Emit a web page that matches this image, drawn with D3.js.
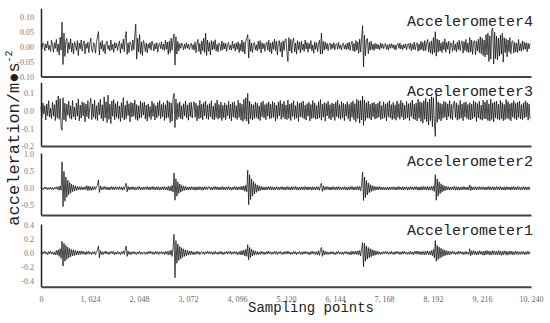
<!DOCTYPE html>
<html>
<head>
<meta charset="utf-8">
<script src="https://cdn.jsdelivr.net/npm/d3@7"></script>
<style>
body { margin: 0; background: #fff; }
svg { display: block; }
</style>
</head>
<body>
<div id="chart"></div>
<script>
// Vibration records of four accelerometers, values in 0.001 m/s^2,
// one value every 20 sampling points
const sampleStep = 20;

const acc4 = [
  3, -8, 12, 6, -14, 9, -5, 18, -11, 4, -16, 21, 7, -19, 13, -6,
  24, -17, 9, -28, 31, -12, 82, -60, 45, -33, 18, 27, -22, 14, -9, 26,
  -18, 11, -25, 16, 5, -13, 20, -30, 12, -7, 22, -15, 8, 19, -24, 10,
  -6, 15, -20, 9, 28, -11, -19, 13, 6, -22, 17, 32, 50, -28, 14, -8,
  20, -16, 7, -24, 12, 18, -9, 4, -15, 22, -11, 8, -19, 14, -5, 11,
  -13, 6, 19, -22, 10, -8, 25, -17, 30, 50, -26, 12, -20, 16, 7, -14,
  22, -10, 36, 75, -42, 28, -18, 40, -24, 15, -30, 20, 8, -16, 12, -21,
  9, -6, 14, -12, 18, 5, -15, 10, -8, 13, -19, 6, 11, -7, 16, -10,
  8, -13, 21, -9, 15, -26, 18, -20, 28, -12, 24, 42, -62, 33, -25, 17,
  -14, 10, -6, 12, 4, -11, 9, -7, 13, -5, 8, -10, 6, 11, -9, 7,
  -12, 16, -21, 9, 24, -17, 11, -26, 19, -14, 28, -20, 45, -30, 22, -16,
  14, -28, 20, -11, 17, -9, 23, -15, 8, -18, 12, 6, -14, 19, -10, 13,
  -8, 11, -16, 7, 14, -10, 5, -12, 18, -6, 9, -15, 12, -9, 16, -20,
  10, -14, 22, -18, 15, -25, 19, 28, 40, -38, 24, -16, 12, -20, 9, 14,
  -11, 6, -15, 18, -9, 20, -22, 13, -7, 10, -16, 8, 15, -12, 21, -18,
  12, -24, 16, -9, 25, -14, 18, -28, 11, 20, -17, 14, -35, 19, -13, 22,
  26, -20, -50, 30, -15, 24, -22, 17, 28, -18, 12, -25, 20, -10, 15, -21,
  18, -12, 9, -16, 22, -8, 14, -19, 11, -7, 20, -14, 6, -22, 16, -9,
  13, -17, 10, 21, -25, 45, -24, 18, -12, 15, -8, 11, -14, 7, 12, -10,
  9, -6, 13, -11, 7, 10, -9, 14, -7, 5, -12, 9, 11, -8, 6, -10,
  12, -9, 15, -13, 8, 18, -14, 11, -17, 20, -12, 16, -22, 25, -18, 28,
  70, -68, 38, -30, 22, 27, -24, 15, -12, 18, -10, 8, -13, 11, -7, 9,
  -8, 6, -10, 12, -5, 9, -7, 4, 11, -9, 6, -12, 8, -6, 10, -4,
  7, -9, 5, -11, 8, 10, -6, 12, -8, 5, -10, 7, -5, 9, -11, 6,
  10, -7, 12, -14, 8, -9, 15, -11, 6, 13, -16, 9, -12, 18, -10, 14,
  -15, 20, -13, 11, 24, -18, 15, -22, 19, -26, 30, -20, 50, -32, 25, -18,
  22, -15, 12, -20, 17, -11, 26, -19, 14, -9, 18, -24, 13, 10, -16, 20,
  -12, 8, -18, 15, -10, 21, -14, 11, 19, -22, 16, -13, 24, -17, 12, -20,
  30, -18, 22, -26, 15, 20, -28, 18, -14, 25, -20, 33, -24, 28, -30, 22,
  -35, 40, -28, 45, -50, 36, -42, 55, 62, -58, 48, -40, 35, -45, 28, -32,
  38, -25, 45, -52, 30, -20, 26, -34, 22, -18, 30, -24, 16, 20, -22, 14,
  -18, 12, -20, 24, -14, 10, -16, 19, -11, 15, -9, 13, -17, 11, -8, 10
];

const acc3 = [
  22, -38, 45, -18, 30, -52, 40, -27, 58, -35, 15, -44, 50, -30, 36, -55,
  62, -40, 85, -48, 70, -95, -110, 75, -52, 44, -60, 38, -25, 55, -42, 30,
  -48, 60, -35, 22, -50, 45, -30, 68, -57, 33, -41, 52, -28, 47, -62, 39,
  -33, 58, -45, 26, 72, -50, 40, -36, 61, -47, 30, -55, 48, -22, 66, -44,
  35, -58, 80, -40, 52, -66, 90, -48, 38, -72, 57, -31, 64, -50, 42, -37,
  55, -45, 28, -60, 47, -39, 76, -52, 33, -44, 58, -27, 41, -63, 50, -35,
  44, -30, 62, -48, 36, -55, 29, -42, 57, -38, 46, -24, 51, -47, 33, -58,
  40, -36, 25, -49, 55, -31, 43, -52, 30, -40, 48, -28, 59, -45, 37, -33,
  47, -55, 35, -42, 60, -38, 52, -66, 45, -58, 72, 100, -95, 68, -50, 43,
  -37, 52, -45, 30, -48, 41, -28, 56, -39, 34, -53, 46, -32, 49, -41, 27,
  53, -36, 44, -57, 31, -45, 60, -40, 38, -51, 47, -29, 55, -43, 35, -49,
  42, -33, 58, -46, 27, -52, 44, -38, 62, -47, 36, -41, 50, -55, 32, -39,
  46, -50, 34, -28, 55, -44, 39, -57, 48, -35, 52, -42, 30, -49, 61, -37,
  45, -53, 38, -60, 66, -48, 75, -58, 100, -75, 55, -46, 40, -52, 35, -43,
  51, -38, 44, -47, 29, -55, 48, -33, 57, -40, 36, -50, 43, -31, 52, -45,
  38, -42, 54, -36, 47, -58, 33, -44, 50, -29, 60, -48, 41, -37, 55, -46,
  34, -50, 62, -43, 39, -55, 46, -32, 58, -47, 30, -41, 53, -60, 44, -35,
  49, -38, 56, -45, 33, -52, 42, -30, 50, -57, 37, -44, 59, -39, 45, -48,
  31, -46, 52, -40, 64, -53, 38, -35, 47, -58, 43, -29, 55, -44, 36, -51,
  45, -37, 40, -55, 50, -33, 61, -42, 35, -48, 53, -39, 44, -56, 38, -30,
  52, -45, 37, -59, 48, -36, 57, -50, 42, -62, 66, -44, 58, -70, 60, -52,
  85, -82, 62, -55, 47, -40, 56, -43, 38, -52, 45, -34, 50, -47, 39, -42,
  44, -36, 55, -49, 31, -45, 52, -38, 40, -57, 47, -33, 58, -41, 36, -50,
  49, -44, 35, -53, 57, -37, 42, -48, 60, -35, 46, -52, 33, -45, 54, -39,
  41, -55, 48, -32, 62, -46, 38, -50, 45, -58, 66, -42, 52, -60, 47, -70,
  58, -48, 72, -62, 50, -80, 68, -55, 80, -90, 75, -60, -145, 90, -65, 52,
  -48, 44, -57, 38, -42, 55, -36, 49, -52, 40, -33, 58, -45, 37, -50, 43,
  55, -38, 46, -53, 35, -47, 60, -41, 39, -56, 48, -34, 52, -44, 37, -49,
  47, -52, 38, -45, 58, -36, 50, -60, 42, -39, 55, -48, 33, -53, 61, -44,
  50, -46, 63, -55, 40, -58, 67, -49, 45, -62, 52, -40, 56, -47, 38, -53,
  60, -44, 48, -56, 37, -50, 65, -42, 53, -48, 41, -57, 46, -36, 58, -45,
  43, -52, 49, -38, 55, -46, 36, -50, 44, -41, 57, -35, 48, -53, 40, -45
];

const acc2 = [
  25, -38, 14, -30, 42, -20, 33, -45, 18, -27, 40, -35, 22, -48, 30, -19,
  45, -32, 50, -60, 70, -55, 780, -540, 500, -380, 330, -260, 240, -190, 170, -140,
  120, -100, 90, -80, 70, -60, 55, -50, 48, -40, 52, -45, 38, -42, 50, -36,
  80, -70, 65, -55, 50, -60, 45, -40, 55, -35, 48, 90, 250, -120, 70, -50,
  42, -38, 55, -30, 47, -44, 35, -52, 40, -33, 58, -41, 36, -46, 50, -29,
  38, -45, 52, -34, 41, -56, 44, -37, 70, 150, -100, 60, -48, 35, -42, 50,
  -36, 45, -53, 30, -40, 48, -35, 55, -44, 32, -50, 41, -38, 46, -30, 52,
  -42, 37, -49, 44, -33, 58, -40, 35, -47, 51, -36, 43, -55, 39, -45, 48,
  -38, 50, -44, 36, -52, 60, -70, 55, -80, 90, -110, 450, -350, 280, -230, 190,
  -150, 130, -110, 90, -80, 70, -60, 55, -50, 45, -48, 40, -44, 50, -38, 42,
  -50, 45, -55, 40, -48, 52, -37, 44, -60, 38, -45, 50, -33, 47, -41, 36,
  53, -46, 39, -52, 44, -35, 57, -40, 48, -43, 36, -50, 42, -38, 55, -45,
  37, -49, 46, -33, 51, -42, 40, -56, 35, -44, 58, -39, 47, -52, 41, -36,
  50, -45, 62, -55, 70, -85, 90, -100, 530, -480, 400, -330, 280, -230, 200, -170,
  140, -120, 100, -85, 75, -65, 58, -50, 45, -52, 40, -47, 44, -38, 50, -42,
  55, -48, 44, -52, 38, -45, 50, -40, 36, -47, 42, -35, 53, -44, 39, -50,
  46, -38, 52, -43, 35, -55, 48, -40, 44, -36, 58, -47, 41, -52, 37, -45,
  50, -42, 39, -48, 55, -37, 43, -51, 47, -34, 40, -56, 49, -41, 36, -46,
  53, -40, 45, -60, 80, 150, -90, 70, -55, 48, -42, 50, -37, 44, -49, 38,
  -45, 52, -36, 41, -50, 47, -39, 55, -43, 37, -48, 42, -35, 51, -46, 40,
  -52, 38, -44, 49, -37, 55, -45, 42, -50, 48, -40, 55, -52, 60, -70, 90,
  480, -360, 330, -270, 230, -190, 160, -130, 110, -95, 80, -70, 60, -55, 50, -45,
  48, -40, 52, -44, 38, -47, 41, -50, 36, -45, 44, -50, 38, -45, 41, -36,
  48, -43, 37, -52, 45, -39, 54, -41, 36, -48, 50, -44, 40, -35, 47, -53,
  39, -46, 55, -38, 42, -50, 47, -36, 53, -45, 40, -58, 44, -50, 52, -46,
  55, -42, 48, -52, 60, -50, 45, -55, 62, -58, 70, -90, 400, -350, 280, -230,
  190, -160, 135, -115, 95, -80, 70, -60, 55, -48, 45, -50, 40, -44, 48, -38,
  60, -55, 48, -52, 44, -47, 40, -50, 45, -38, 53, -42, 37, -48, 43, -40,
  100, -70, 55, -48, 42, -37, 50, -44, 38, -46, 52, -40, 45, -35, 48, -42,
  37, -50, 44, -39, 55, -46, 41, -36, 49, -53, 40, -45, 56, -38, 43, -47,
  52, -41, 38, -48, 45, -55, 50, -37, 44, -42, 36, -51, 47, -40, 53, -45,
  40, -46, 55, -38, 42, -49, 37, -44, 51, -36, 45, -50, 39, -43, 48, -40
];

const acc1 = [
  12, -22, 18, -8, 25, -15, 9, -27, 20, -13, 28, -18, 11, -24, 16, -30,
  35, -28, 45, -50, 60, -80, 170, -190, 140, -120, 110, -95, 85, -70, 65, -55,
  50, -42, 45, -38, 35, -30, 32, -26, 28, -22, 30, -18, 25, -20, 15, -28,
  22, -14, 26, -19, 10, -24, 17, -12, 21, -27, 18, 40, 100, -70, 35, -22,
  16, -25, 20, -11, 27, -17, 13, -23, 19, -9, 24, -15, 21, -28, 12, -18,
  23, -16, 10, -26, 18, -12, 28, -20, 45, 100, -50, 30, -22, 15, -25, 19,
  -13, 22, -18, 9, -24, 16, -11, 25, -19, 14, -21, 8, 17, -23, 12, -16,
  20, -14, 26, -10, 18, -22, 13, -17, 24, -12, 19, -25, 15, -9, 21, -18,
  14, -22, 25, -18, 22, -28, 30, -25, 40, -50, 80, 270, -360, 180, -150, 130,
  -110, 95, -85, 75, -65, 58, -50, 45, -40, 36, -32, 28, -25, 30, -22, 18,
  -26, 15, -20, 24, -13, 19, -27, 11, 22, -17, 14, -23, 18, -10, 25, -16,
  21, -12, 17, -24, 13, -19, 26, -14, 10, -22, 18, -15, 23, -20, 12, -25,
  16, -11, 24, -18, 20, -13, 27, -21, 15, -17, 22, -10, 19, -26, 14, -20,
  25, -30, 35, -28, 40, -45, 55, -50, 120, -100, 80, -65, 55, -45, 38, -32,
  28, -24, 20, -26, 15, -21, 23, -14, 18, -25, 12, -19, 22, -16, 26, -11,
  17, -23, 13, -18, 25, -12, 20, -27, 15, -10, 24, -20, 11, -22, 19, -15,
  22, -17, 27, -13, 16, -24, 10, -19, 23, -15, 18, -26, 14, -11, 21, -20,
  13, -25, 19, -16, 24, -12, 17, -21, 11, -27, 22, -14, 26, -18, 15, -23,
  20, -28, 30, -35, 40, 80, -50, 38, -30, 25, -20, 17, -24, 13, -19, 22,
  -15, 18, -22, 12, -26, 20, -13, 24, -17, 10, -21, 16, -25, 19, -11, 23,
  -18, 14, -23, 20, -27, 25, -20, 22, -18, 26, -24, 30, -28, 35, -45, 60,
  150, -200, 140, -120, 100, -90, 80, -70, 62, -55, 48, -42, 38, -34, 30, -26,
  24, -20, 17, -23, 13, -18, 21, -15, 25, -12, 19, -22, 14, -17, 26, -19,
  12, -24, 20, -16, 23, -11, 18, -25, 15, -20, 27, -13, 22, -18, 10, -21,
  16, -22, 25, -19, 13, -26, 21, -14, 28, -20, 25, -18, 22, -26, 20, -24,
  22, -28, 25, -20, 30, -26, 24, -30, 35, -40, 50, -70, 180, -120, 110, -95,
  85, -75, 68, -60, 52, -46, 40, -36, 32, -28, 25, -30, 22, -18, 26, -15,
  20, -24, 14, -19, 27, -16, 22, -12, 18, -25, 13, -21, 24, -17, 11, -23,
  60, -40, 30, -25, 35, -22, 28, -30, 20, -26, 32, -18, 25, -28, 22, -34,
  30, -24, 36, -20, 27, -32, 24, -28, 35, -22, 29, -26, 20, -30, 33, -25,
  28, -35, 22, -27, 31, -20, 26, -33, 19, -24, 30, -21, 25, -29, 18, -23,
  27, -20, 22, -26, 17, -21, 24, -18, 20, -25, 16, -22, 23, -19, 21, -17
];

const xTickValues = [0, 1024, 2048, 3072, 4096, 5120, 6144, 7168, 8192, 9216, 10240];
const acc4Ticks = [-0.10, -0.05, 0, 0.05, 0.10];
const acc3Ticks = [-0.2, -0.1, 0, 0.1];
const acc2Ticks = [-0.5, 0, 0.5, 1.0];
const acc1Ticks = [-0.4, -0.2, 0, 0.2, 0.4];

const width = 550, height = 323;
const left = 41, right = 531;

const svg = d3.select("#chart").append("svg")
    .attr("width", width)
    .attr("height", height);

const x = d3.scaleLinear().domain([0, 10240]).range([left, right]);

// one panel per sensor, top to bottom
const panels = [
    { name: "Accelerometer4", values: acc4, domain: [-0.10, 0.128], top: 8.3, bottom: 76.5, ticks: acc4Ticks, fmt: ".2f", titleY: 26 },
    { name: "Accelerometer3", values: acc3, domain: [-0.2, 0.163], top: 82.3, bottom: 146, ticks: acc3Ticks, fmt: ".1f", titleY: 96 },
    { name: "Accelerometer2", values: acc2, domain: [-0.785, 1.04], top: 153, bottom: 215, ticks: acc2Ticks, fmt: ".1f", titleY: 166 },
    { name: "Accelerometer1", values: acc1, domain: [-0.49, 0.42], top: 224, bottom: 286.7, ticks: acc1Ticks, fmt: ".1f", titleY: 235, last: true }
];

panels.forEach(p => {
    const y = d3.scaleLinear().domain(p.domain).range([p.bottom, p.top]);
    const g = svg.append("g");

    const line = d3.line()
        .x((d, i) => x(i * sampleStep))
        .y(d => y(d / 1000));

    g.append("path")
        .datum(p.values)
        .attr("d", line)
        .attr("fill", "none")
        .attr("stroke", "#000")
        .attr("stroke-width", 0.7);

    // left axis, labels only
    const yAxis = g.append("g")
        .attr("transform", `translate(${left},0)`)
        .call(d3.axisLeft(y)
            .tickValues(p.ticks)
            .tickFormat(d => d3.format(p.fmt)(d).replace("\u2212", "-"))
            .tickSize(0)
            .tickPadding(7));
    yAxis.select(".domain").attr("stroke", "#222").attr("stroke-width", 1.5);
    yAxis.selectAll("text")
        .attr("font-family", "Liberation Serif")
        .attr("font-size", 8)
        .attr("fill", "#777");

    // bottom line (tick labels only under the last panel)
    const xAxis = g.append("g")
        .attr("transform", `translate(0,${p.bottom})`)
        .call(d3.axisBottom(x)
            .tickValues(p.last ? xTickValues : [])
            .tickFormat(d => d3.format(",")(d).replace(",", ", "))
            .tickSize(0)
            .tickPadding(10));
    xAxis.select(".domain").attr("stroke", "#444").attr("stroke-width", 2);
    xAxis.selectAll("text")
        .attr("font-family", "Liberation Serif")
        .attr("font-size", 8)
        .attr("fill", "#666");

    g.append("text")
        .attr("x", 533)
        .attr("y", p.titleY)
        .attr("text-anchor", "end")
        .attr("font-family", "Liberation Mono")
        .attr("font-size", 15)
        .attr("fill", "#222")
        .text(p.name);
});

// Axis titles
svg.append("text")
    .attr("x", 311)
    .attr("y", 312)
    .attr("text-anchor", "middle")
    .attr("font-family", "Liberation Mono")
    .attr("font-size", 14)
    .attr("fill", "#222")
    .text("Sampling points");

const yLabel = svg.append("text")
    .attr("transform", "translate(19,138) rotate(-90)")
    .attr("text-anchor", "middle")
    .attr("font-family", "Liberation Mono")
    .attr("font-size", 17)
    .attr("fill", "#222");
yLabel.append("tspan").text("acceleration/m\u25CFs");
yLabel.append("tspan").attr("dy", -7).attr("font-size", 10).text("-2");
</script>
</body>
</html>
